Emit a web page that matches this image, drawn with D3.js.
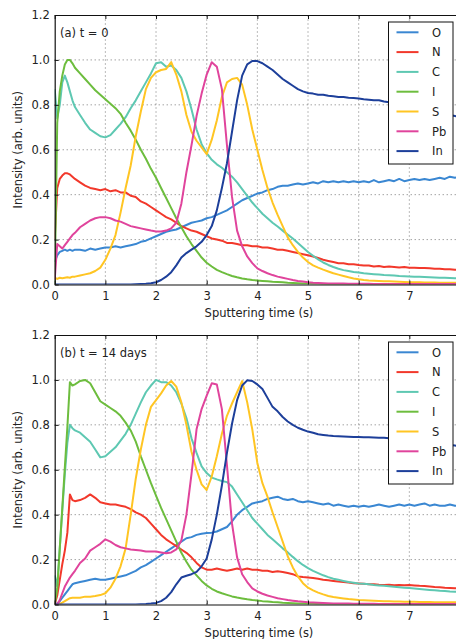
<!DOCTYPE html>
<html>
<head>
<meta charset="utf-8">
<script src="https://cdn.jsdelivr.net/npm/d3@7"></script>
<style>
body { margin: 0; background: #fff; }
svg { display: block; font-family: "DejaVu Sans", sans-serif; }
</style>
</head>
<body>
<div class="chart"></div>
<script>
// sputtering time (s), shared by every series
const times = [0, 0.05, 0.1, 0.15, 0.2, 0.25, 0.3, 0.35, 0.4,
	0.5, 0.6, 0.7, 0.8, 0.9, 1.0,
	1.1, 1.2, 1.3, 1.4, 1.5, 1.6, 1.7, 1.8, 1.9, 2.0,
	2.1, 2.2, 2.3, 2.4, 2.5, 2.6, 2.7, 2.8, 2.9, 3.0,
	3.1, 3.2, 3.3, 3.4, 3.5, 3.6, 3.7, 3.8, 3.9, 4.0,
	4.1, 4.2, 4.3, 4.4, 4.5, 4.6, 4.7, 4.8, 4.9, 5.0,
	5.1, 5.2, 5.3, 5.4, 5.5, 5.6, 5.7, 5.8, 5.9, 6.0,
	6.1, 6.2, 6.3, 6.4, 6.5, 6.6, 6.7, 6.8, 6.9, 7.0,
	7.1, 7.2, 7.3, 7.4, 7.5, 7.6, 7.7, 7.8, 7.9, 8.0];

const elements = ['O', 'N', 'C', 'I', 'S', 'Pb', 'In'];
const colors = ['#3a87d2', '#f2382b', '#5ec8b2', '#6dbd3e', '#ffc523', '#e0449c', '#1d3f9a'];
const panelLabels = ['(a) t = 0', '(b) t = 14 days'];
const xTicks = [0, 1, 2, 3, 4, 5, 6, 7, 8];
const xTickLabels = ['0', '1', '2', '3', '4', '5', '6', '7', ''];
const yTicks = [0, 0.2, 0.4, 0.6, 0.8, 1.0, 1.2];

// (a) t = 0
const O_a = [0.10, 0.13, 0.145, 0.15, 0.155, 0.15, 0.155, 0.15, 0.155,
	0.155, 0.15, 0.16, 0.155, 0.16, 0.165,
	0.165, 0.17, 0.165, 0.17, 0.175, 0.18, 0.19, 0.195, 0.205, 0.215,
	0.225, 0.235, 0.24, 0.245, 0.255, 0.265, 0.275, 0.28, 0.285, 0.295,
	0.30, 0.31, 0.32, 0.33, 0.345, 0.36, 0.375, 0.385, 0.395, 0.405,
	0.41, 0.42, 0.425, 0.435, 0.44, 0.44, 0.445, 0.45, 0.445, 0.45,
	0.455, 0.45, 0.46, 0.455, 0.46, 0.455, 0.46, 0.455, 0.46, 0.455,
	0.46, 0.455, 0.465, 0.455, 0.46, 0.465, 0.46, 0.47, 0.46, 0.465,
	0.47, 0.465, 0.47, 0.465, 0.47, 0.475, 0.47, 0.48, 0.475, 0.48];
const N_a = [0.20, 0.43, 0.47, 0.485, 0.495, 0.495, 0.49, 0.48, 0.47,
	0.455, 0.44, 0.43, 0.425, 0.42, 0.425,
	0.415, 0.42, 0.41, 0.41, 0.395, 0.39, 0.37, 0.36, 0.345, 0.33,
	0.315, 0.30, 0.29, 0.275, 0.26, 0.25, 0.24, 0.235, 0.225, 0.215,
	0.205, 0.20, 0.195, 0.185, 0.185, 0.18, 0.175, 0.175, 0.17, 0.17,
	0.165, 0.165, 0.16, 0.155, 0.155, 0.15, 0.145, 0.14, 0.135, 0.13,
	0.125, 0.118, 0.11, 0.105, 0.10, 0.095, 0.095, 0.09, 0.09, 0.087,
	0.085, 0.085, 0.08, 0.082, 0.078, 0.08, 0.078, 0.076, 0.078, 0.075,
	0.075, 0.073, 0.074, 0.072, 0.07, 0.07, 0.068, 0.068, 0.066, 0.065];
const C_a = [0.87, 0.74, 0.80, 0.90, 0.93, 0.90, 0.86, 0.82, 0.79,
	0.755, 0.72, 0.69, 0.675, 0.66, 0.655,
	0.665, 0.69, 0.715, 0.745, 0.785, 0.82, 0.86, 0.90, 0.94, 0.985,
	0.99, 0.97, 0.975, 0.955, 0.92, 0.86, 0.78, 0.69, 0.625, 0.585,
	0.555, 0.535, 0.52, 0.50, 0.48, 0.455, 0.425, 0.395, 0.365, 0.34,
	0.315, 0.295, 0.275, 0.258, 0.24, 0.222, 0.205, 0.185, 0.165, 0.145,
	0.128, 0.112, 0.098, 0.087, 0.078, 0.07, 0.064, 0.06, 0.056, 0.053,
	0.05, 0.048, 0.046, 0.044, 0.042, 0.041, 0.04, 0.038, 0.037, 0.036,
	0.035, 0.034, 0.033, 0.032, 0.031, 0.03, 0.03, 0.029, 0.028, 0.028];
const I_a = [0.0, 0.72, 0.86, 0.93, 0.98, 1.0, 1.0, 0.985, 0.965,
	0.94, 0.915, 0.89, 0.865, 0.845, 0.825,
	0.805, 0.785, 0.76, 0.72, 0.685, 0.645, 0.60, 0.56, 0.515, 0.475,
	0.43, 0.385, 0.34, 0.295, 0.255, 0.215, 0.18, 0.15, 0.12, 0.097,
	0.08, 0.065, 0.055, 0.046, 0.038, 0.032, 0.027, 0.023, 0.02, 0.018,
	0.016, 0.014, 0.012, 0.011, 0.01, 0.008, 0.007, 0.006, 0.005, 0.004,
	0.003, 0.003, 0.002, 0.002, 0.002, 0.001, 0.001, 0.001, 0.001, 0.001,
	0.001, 0.001, 0.001, 0.001, 0.001, 0.0, 0.0, 0.0, 0.0, 0.0,
	0.0, 0.0, 0.0, 0.0, 0.0, 0.0, 0.0, 0.0, 0.0, 0.0];
const S_a = [0.03, 0.025, 0.03, 0.028, 0.03, 0.032, 0.03, 0.035, 0.035,
	0.04, 0.045, 0.05, 0.06, 0.075, 0.11,
	0.16, 0.22, 0.32, 0.43, 0.53, 0.66, 0.77, 0.87, 0.92, 0.945,
	0.955, 0.96, 0.99, 0.935, 0.86, 0.755, 0.68, 0.64, 0.61, 0.58,
	0.645, 0.73, 0.835, 0.90, 0.915, 0.92, 0.89, 0.80, 0.69, 0.60,
	0.51, 0.43, 0.365, 0.31, 0.26, 0.21, 0.175, 0.145, 0.12, 0.10,
	0.085, 0.075, 0.066, 0.058, 0.05, 0.044, 0.038, 0.032, 0.027, 0.023,
	0.02, 0.018, 0.017, 0.016, 0.015, 0.014, 0.013, 0.012, 0.011, 0.01,
	0.01, 0.01, 0.009, 0.009, 0.009, 0.008, 0.008, 0.008, 0.008, 0.008];
const Pb_a = [0.02, 0.18, 0.17, 0.16, 0.175, 0.19, 0.205, 0.22, 0.23,
	0.255, 0.27, 0.285, 0.295, 0.30, 0.30,
	0.295, 0.285, 0.28, 0.27, 0.26, 0.255, 0.25, 0.245, 0.24, 0.236,
	0.236, 0.24, 0.25, 0.275, 0.36, 0.50, 0.62, 0.75, 0.85, 0.935,
	0.99, 0.97, 0.87, 0.62, 0.39, 0.24, 0.17, 0.125, 0.095, 0.072,
	0.06, 0.05, 0.042, 0.035, 0.03, 0.025, 0.02, 0.016, 0.013, 0.01,
	0.008, 0.007, 0.006, 0.005, 0.005, 0.004, 0.004, 0.003, 0.003, 0.003,
	0.003, 0.003, 0.002, 0.002, 0.002, 0.002, 0.002, 0.002, 0.002, 0.002,
	0.002, 0.002, 0.002, 0.002, 0.002, 0.002, 0.002, 0.002, 0.002, 0.002];
const In_a = [0, 0, 0, 0, 0, 0, 0, 0, 0,
	0, 0, 0, 0, 0, 0,
	0, 0, 0, 0, 0, 0.001, 0.002, 0.003, 0.006, 0.01,
	0.02, 0.035, 0.055, 0.085, 0.12, 0.14, 0.155, 0.17, 0.19, 0.22,
	0.26, 0.33, 0.43, 0.54, 0.68, 0.82, 0.93, 0.98, 0.995, 0.995,
	0.985, 0.97, 0.955, 0.935, 0.915, 0.90, 0.885, 0.87, 0.86, 0.853,
	0.85, 0.845, 0.845, 0.84, 0.838, 0.835, 0.835, 0.832, 0.83, 0.828,
	0.825, 0.823, 0.82, 0.82, 0.815, 0.812, 0.81, 0.805, 0.80, 0.795,
	0.79, 0.785, 0.78, 0.775, 0.77, 0.765, 0.76, 0.755, 0.75, 0.745];

// (b) t = 14 days
const O_b = [0.0, 0.005, 0.015, 0.03, 0.045, 0.06, 0.075, 0.09, 0.095,
	0.10, 0.105, 0.11, 0.115, 0.11, 0.11,
	0.115, 0.12, 0.125, 0.13, 0.14, 0.15, 0.165, 0.175, 0.19, 0.205,
	0.22, 0.235, 0.25, 0.265, 0.28, 0.295, 0.30, 0.31, 0.315, 0.318,
	0.32, 0.325, 0.335, 0.345, 0.37, 0.40, 0.42, 0.435, 0.45, 0.455,
	0.46, 0.47, 0.475, 0.48, 0.47, 0.465, 0.47, 0.46, 0.455, 0.46,
	0.455, 0.45, 0.445, 0.45, 0.44, 0.445, 0.44, 0.435, 0.44, 0.435,
	0.44, 0.435, 0.44, 0.445, 0.44, 0.435, 0.44, 0.445, 0.44, 0.445,
	0.44, 0.445, 0.45, 0.44, 0.445, 0.44, 0.44, 0.445, 0.44, 0.44];
const N_b = [0.0, 0.04, 0.11, 0.18, 0.24, 0.32, 0.49, 0.465, 0.46,
	0.465, 0.475, 0.49, 0.475, 0.455, 0.45,
	0.445, 0.445, 0.44, 0.435, 0.425, 0.41, 0.40, 0.385, 0.36, 0.335,
	0.31, 0.29, 0.275, 0.26, 0.245, 0.23, 0.21, 0.185, 0.165, 0.155,
	0.155, 0.16, 0.155, 0.15, 0.155, 0.16, 0.155, 0.16, 0.155, 0.155,
	0.15, 0.15, 0.145, 0.148, 0.145, 0.14, 0.135, 0.125, 0.122, 0.12,
	0.118, 0.115, 0.11, 0.108, 0.105, 0.102, 0.10, 0.098, 0.095, 0.094,
	0.092, 0.09, 0.09, 0.088, 0.087, 0.088, 0.086, 0.087, 0.086, 0.087,
	0.085, 0.083, 0.082, 0.08, 0.078, 0.077, 0.075, 0.074, 0.072, 0.072];
const C_b = [0.13, 0.08, 0.25, 0.42, 0.58, 0.72, 0.80, 0.785, 0.775,
	0.765, 0.745, 0.725, 0.69, 0.655, 0.66,
	0.68, 0.70, 0.73, 0.76, 0.80, 0.85, 0.90, 0.945, 0.975, 1.0,
	0.99, 0.99, 0.975, 0.945, 0.895, 0.83, 0.74, 0.675, 0.615, 0.585,
	0.565, 0.557, 0.55, 0.545, 0.525, 0.49, 0.455, 0.42, 0.385, 0.36,
	0.335, 0.31, 0.29, 0.27, 0.25, 0.232, 0.212, 0.193, 0.176, 0.162,
	0.15, 0.14, 0.13, 0.122, 0.115, 0.11, 0.105, 0.10, 0.097, 0.094,
	0.092, 0.09, 0.087, 0.085, 0.083, 0.081, 0.079, 0.077, 0.075, 0.073,
	0.071, 0.069, 0.067, 0.065, 0.063, 0.061, 0.06, 0.058, 0.057, 0.056];
const I_b = [0.0, 0.07, 0.25, 0.43, 0.61, 0.79, 0.99, 0.975, 0.98,
	0.995, 1.0, 0.985, 0.945, 0.905, 0.89,
	0.875, 0.86, 0.84, 0.81, 0.775, 0.725, 0.66, 0.60, 0.54, 0.485,
	0.43, 0.38, 0.33, 0.28, 0.23, 0.19, 0.155, 0.13, 0.105, 0.085,
	0.07, 0.058, 0.05, 0.043, 0.036, 0.031, 0.027, 0.023, 0.02, 0.018,
	0.015, 0.013, 0.011, 0.01, 0.008, 0.007, 0.006, 0.005, 0.004, 0.003,
	0.003, 0.002, 0.002, 0.002, 0.001, 0.001, 0.001, 0.001, 0.0, 0.0,
	0.0, 0.0, 0.0, 0.0, 0.0, 0.0, 0.0, 0.0, 0.0, 0.0,
	0.0, 0.0, 0.0, 0.0, 0.0, 0.0, 0.0, 0.0, 0.0, 0.0];
const S_b = [0.0, 0.0, 0.003, 0.008, 0.015, 0.022, 0.028, 0.03, 0.03,
	0.03, 0.035, 0.035, 0.038, 0.042, 0.05,
	0.075, 0.115, 0.17, 0.25, 0.40, 0.56, 0.69, 0.80, 0.88, 0.91,
	0.94, 0.975, 0.995, 0.97, 0.90, 0.80, 0.68, 0.60, 0.535, 0.51,
	0.57, 0.66, 0.76, 0.84, 0.895, 0.945, 0.995, 0.90, 0.78, 0.63,
	0.54, 0.48, 0.41, 0.345, 0.28, 0.215, 0.165, 0.125, 0.095, 0.075,
	0.063, 0.053, 0.045, 0.038, 0.033, 0.03, 0.027, 0.024, 0.022, 0.02,
	0.019, 0.018, 0.017, 0.016, 0.015, 0.014, 0.013, 0.013, 0.012, 0.012,
	0.012, 0.011, 0.011, 0.011, 0.01, 0.01, 0.01, 0.01, 0.01, 0.01];
const Pb_b = [0.0, 0.0, 0.02, 0.05, 0.08, 0.10, 0.12, 0.135, 0.15,
	0.185, 0.205, 0.24, 0.255, 0.27, 0.29,
	0.28, 0.265, 0.255, 0.25, 0.245, 0.243, 0.24, 0.236, 0.236, 0.236,
	0.232, 0.228, 0.232, 0.245, 0.285, 0.40, 0.58, 0.78, 0.87, 0.93,
	0.985, 0.98, 0.87, 0.62, 0.36, 0.21, 0.135, 0.10, 0.072, 0.058,
	0.048, 0.04, 0.034, 0.028, 0.024, 0.02, 0.017, 0.014, 0.012, 0.01,
	0.009, 0.008, 0.007, 0.006, 0.005, 0.005, 0.004, 0.004, 0.003, 0.003,
	0.003, 0.003, 0.003, 0.002, 0.002, 0.002, 0.002, 0.002, 0.002, 0.002,
	0.002, 0.002, 0.002, 0.002, 0.002, 0.002, 0.002, 0.002, 0.002, 0.002];
const In_b = [0, 0, 0, 0, 0, 0, 0, 0, 0,
	0, 0, 0, 0, 0, 0,
	0, 0, 0, 0, 0, 0, 0.001, 0.002, 0.004, 0.007,
	0.015, 0.03, 0.055, 0.09, 0.12, 0.128, 0.135, 0.145, 0.17, 0.205,
	0.29, 0.40, 0.53, 0.675, 0.805, 0.91, 0.975, 0.998, 0.995, 0.98,
	0.96, 0.92, 0.88, 0.86, 0.835, 0.815, 0.80, 0.787, 0.778, 0.77,
	0.765, 0.758, 0.755, 0.752, 0.75, 0.749, 0.748, 0.747, 0.746, 0.746,
	0.745, 0.745, 0.744, 0.743, 0.742, 0.74, 0.738, 0.735, 0.733, 0.73,
	0.728, 0.725, 0.722, 0.72, 0.717, 0.715, 0.712, 0.71, 0.708, 0.705];

const panelSeries = [
	[O_a, N_a, C_a, I_a, S_a, Pb_a, In_a],
	[O_b, N_b, C_b, I_b, S_b, Pb_b, In_b]
];

const width = 456;
const height = 639;
const plotH = 269.5;
const fontSize = '11.5px';

const svg = d3.select('.chart')
	.append('svg')
	.attr('width', width)
	.attr('height', height);

const x = d3.scaleLinear().domain([0, 8]).range([54.7, 460]);

function renderPanel(idx, top) {
	const y = d3.scaleLinear().domain([0, 1.2]).range([top + plotH, top]);
	const g = svg.append('g');

	g.append('clipPath')
		.attr('id', 'clip' + idx)
		.append('rect')
		.attr('x', x(0))
		.attr('y', y(1.2))
		.attr('width', x(8) - x(0))
		.attr('height', plotH);

	// dotted grid
	g.selectAll('.vgrid')
		.data(xTicks.filter(d => d > 0 && d < 8))
		.enter()
		.append('line')
		.attr('x1', d => x(d)).attr('x2', d => x(d))
		.attr('y1', y(0)).attr('y2', y(1.2))
		.attr('stroke', '#555')
		.attr('stroke-width', 0.8)
		.attr('stroke-dasharray', '1,3');
	g.selectAll('.hgrid')
		.data(yTicks.filter(d => d > 0 && d < 1.2))
		.enter()
		.append('line')
		.attr('x1', x(0)).attr('x2', x(8))
		.attr('y1', d => y(d)).attr('y2', d => y(d))
		.attr('stroke', '#555')
		.attr('stroke-width', 0.8)
		.attr('stroke-dasharray', '1,3');

	const line = d3.line()
		.x((d, i) => x(times[i]))
		.y(d => y(d));

	g.append('g')
		.attr('clip-path', `url(#clip${idx})`)
		.selectAll('path')
		.data(panelSeries[idx])
		.enter()
		.append('path')
		.attr('d', line)
		.attr('fill', 'none')
		.attr('stroke', (d, i) => colors[i])
		.attr('stroke-width', 2)
		.attr('stroke-linejoin', 'round');

	const bottom = g.append('g')
		.attr('transform', `translate(0,${y(0)})`)
		.call(d3.axisBottom(x).tickValues(xTicks).tickSizeInner(-4).tickSizeOuter(0)
			.tickPadding(7).tickFormat((d, i) => xTickLabels[i]));
	const left = g.append('g')
		.attr('transform', `translate(${x(0)},0)`)
		.call(d3.axisLeft(y).tickValues(yTicks).tickSizeInner(-4).tickSizeOuter(0)
			.tickPadding(5).tickFormat(d3.format('.1f')));
	const topAxis = g.append('g')
		.attr('transform', `translate(0,${y(1.2)})`)
		.call(d3.axisTop(x).tickValues(xTicks).tickSizeInner(-4).tickSizeOuter(0)
			.tickFormat(''));

	[bottom, left, topAxis].forEach(a => {
		a.selectAll('.domain').attr('stroke', '#111').attr('stroke-width', 1.2);
		a.selectAll('.tick line').attr('stroke', '#111');
		a.selectAll('text')
			.attr('fill', '#222')
			.style('font-family', '"DejaVu Sans", sans-serif')
			.style('font-size', fontSize);
	});

	// panel label
	g.append('text')
		.text(panelLabels[idx])
		.attr('x', 60)
		.attr('y', top + 22)
		.attr('fill', '#222')
		.style('font-size', fontSize);

	// axis titles
	g.append('text')
		.text('Intensity (arb. units)')
		.attr('transform', `translate(21.5,${top + plotH / 2}) rotate(-90)`)
		.attr('text-anchor', 'middle')
		.attr('fill', '#222')
		.style('font-size', fontSize);
	g.append('text')
		.text('Sputtering time (s)')
		.attr('x', 259)
		.attr('y', top + 301.5)
		.attr('text-anchor', 'middle')
		.attr('fill', '#222')
		.style('font-size', fontSize);

	// legend
	const lg = g.append('g').attr('transform', `translate(388.5,${top + 7})`);
	lg.append('rect')
		.attr('width', 64.5)
		.attr('height', 142)
		.attr('fill', '#fff')
		.attr('stroke', '#111')
		.attr('stroke-width', 1);
	const rows = lg.selectAll('.row')
		.data(elements)
		.enter()
		.append('g')
		.attr('transform', (d, i) => `translate(0,${10.3 + i * 19.8})`);
	rows.append('line')
		.attr('x1', 8).attr('x2', 30)
		.attr('stroke', (d, i) => colors[i])
		.attr('stroke-width', 2);
	rows.append('text')
		.text(d => d)
		.attr('x', 43.5)
		.attr('y', 4.2)
		.attr('fill', '#222')
		.style('font-size', fontSize);
}

renderPanel(0, 15);
renderPanel(1, 335);
</script>
</body>
</html>
